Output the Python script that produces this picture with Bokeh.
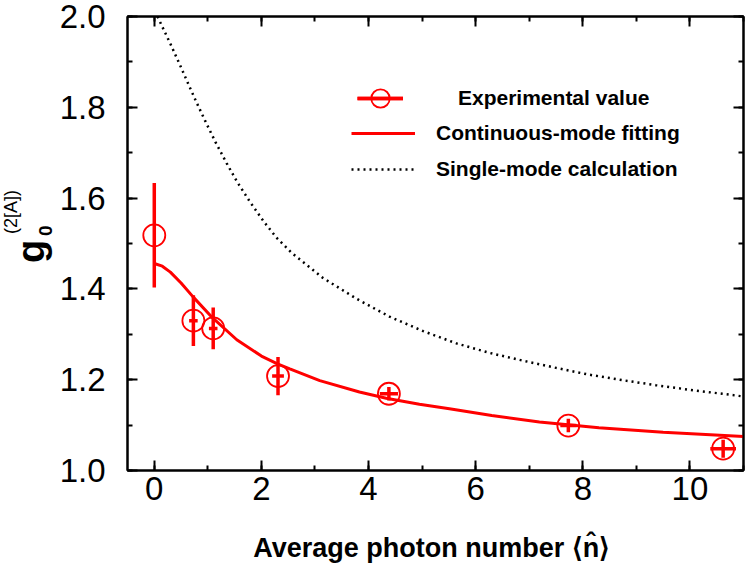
from bokeh.plotting import figure
from bokeh.layouts import row
from bokeh.models import (LinearAxis, Range1d, Legend, LegendItem, Div,
                          SingleIntervalTicker, PrintfTickFormatter,
                          CustomJSTickFormatter)
from bokeh.embed import file_html
from bokeh.resources import INLINE

# ---- data ----
n_exp = [0.0, 0.73, 1.10, 2.31, 4.38, 7.73, 10.62]
g_exp = [1.518, 1.330, 1.313, 1.208, 1.169, 1.099, 1.048]
g_err = [0.115, 0.056, 0.046, 0.042, 0.015, 0.015, 0.020]
n_err = [0.0, 0.08, 0.08, 0.11, 0.17, 0.15, 0.24]

n_fit = [0.0, 0.15, 0.30, 0.50, 0.72, 1.09, 1.54, 2.00, 2.30, 2.53, 3.09,
         3.83, 4.33, 4.95, 5.51, 6.30, 7.19, 8.30, 9.50, 11.0]
g_fit = [1.456, 1.450, 1.437, 1.413, 1.383, 1.336, 1.288, 1.252, 1.235, 1.224,
         1.198, 1.173, 1.159, 1.146, 1.136, 1.121, 1.107, 1.094, 1.084, 1.075]

n_single = [0.06, 0.30, 0.48, 0.64, 0.80, 0.95, 1.14, 1.35, 1.54, 1.79, 2.04,
            2.28, 2.56, 3.15, 3.78, 4.39, 5.02, 5.64, 6.26, 6.88, 7.50, 8.12,
            8.74, 9.36, 9.98, 10.60, 11.0]
g_single = [2.000, 1.940, 1.893, 1.850, 1.808, 1.770, 1.724, 1.677, 1.637,
            1.591, 1.549, 1.513, 1.480, 1.424, 1.378, 1.339, 1.307, 1.280,
            1.259, 1.242, 1.226, 1.211, 1.199, 1.188, 1.178, 1.169, 1.163]

legend_labels = ["Experimental value", "Continuous-mode fitting",
                 "Single-mode calculation"]
x_label = "Average photon number  \u27e8n\u0302\u27e9"
y_label_main, y_label_sub, y_label_sup = "g", "0", "(2[A])"

RED = "#ff0000"
SANS = "Liberation Sans"
DIV_W = 56

p = figure(width=747 - DIV_W, height=573, output_backend="svg",
           toolbar_location=None, margin=0,
           x_range=Range1d(-0.5, 11.0), y_range=Range1d(1.0, 2.0),
           min_border_left=127 - DIV_W, min_border_right=4, min_border_top=16,
           min_border_bottom=103)
p.xgrid.visible = False
p.ygrid.visible = False
p.outline_line_color = "black"
p.outline_line_width = 2
p.background_fill_color = "white"
p.border_fill_color = "white"

xt = SingleIntervalTicker(interval=2, num_minor_ticks=2)
yt = SingleIntervalTicker(interval=0.2, num_minor_ticks=2)
p.xaxis.ticker = xt
p.yaxis.ticker = yt
p.yaxis.formatter = PrintfTickFormatter(format="%.1f")


def style(ax, labels=True):
    ax.axis_line_color = "black"
    ax.axis_line_width = 2
    ax.major_tick_line_width = 2
    ax.minor_tick_line_width = 2
    ax.major_tick_in = 10
    ax.major_tick_out = 0
    ax.minor_tick_in = 5
    ax.minor_tick_out = 0
    if labels:
        ax.major_label_text_font = SANS
        ax.major_label_text_font_size = "33px"
        ax.major_label_text_color = "black"
    else:
        ax.formatter = CustomJSTickFormatter(code="return ''")
        ax.major_label_text_font_size = "0px"
        ax.major_label_standoff = 0


style(p.xaxis[0])
style(p.yaxis[0])
p.xaxis.major_label_standoff = 6
p.yaxis.major_label_standoff = 22
p.xaxis.axis_label = x_label
p.xaxis.axis_label_text_font = SANS
p.xaxis.axis_label_text_font_style = "bold"
p.xaxis.axis_label_text_font_size = "27px"
p.xaxis.axis_label_text_color = "black"
p.xaxis.axis_label_standoff = 30

top = LinearAxis(ticker=xt)
style(top, labels=False)
p.add_layout(top, "above")
right = LinearAxis(ticker=yt)
style(right, labels=False)
p.add_layout(right, "right")

# ---- data ----
fit_r = p.line(n_fit, g_fit, line_color=RED, line_width=3)
single_r = p.line(n_single, g_single, line_color="black", line_width=2.5,
                  line_dash="2 4")

lo = [g - e for g, e in zip(g_exp, g_err)]
hi = [g + e for g, e in zip(g_exp, g_err)]
xl = [n - e for n, e in zip(n_exp, n_err)]
xh = [n + e for n, e in zip(n_exp, n_err)]
yerr_r = p.segment(x0=n_exp, y0=lo, x1=n_exp, y1=hi, line_color=RED,
                   line_width=3.5)
xerr_r = p.segment(x0=xl, y0=g_exp, x1=xh, y1=g_exp, line_color=RED,
                   line_width=3.5)
circ_r = p.scatter(n_exp, g_exp, marker="circle", size=22, fill_color=None,
                   line_color=RED, line_width=1.8)

# ---- legends ----
common = dict(padding=0, spacing=6, border_line_color=None,
              background_fill_alpha=0, label_text_font=SANS,
              label_text_font_style="bold", label_text_font_size="21px",
              label_text_color="black")
legA = Legend(items=[LegendItem(label=legend_labels[0],
                                renderers=[yerr_r, xerr_r, circ_r])],
              location=(230, 347), glyph_width=46, glyph_height=50,
              label_standoff=55, **common)
legB = Legend(items=[LegendItem(label=legend_labels[1], renderers=[fit_r]),
                     LegendItem(label=legend_labels[2], renderers=[single_r])],
              location=(224, 286), glyph_width=64, glyph_height=30,
              label_standoff=21, **common)
p.add_layout(legA)
p.add_layout(legB)


# ---- y-axis title g_0^(2[A]) as rotated real text ----
def rot_text(txt, size, left, top, bold):
    w = "bold" if bold else "normal"
    return ('<div style="position:absolute;left:%dpx;top:%dpx;'
            'transform:rotate(-90deg);transform-origin:0 0;'
            'white-space:nowrap;line-height:1;font-family:\'%s\';'
            'font-size:%dpx;font-weight:%s;color:black;">%s</div>'
            % (left, top, SANS, size, w, txt))


html = ('<div style="position:relative;width:%dpx;height:573px;">' % DIV_W
        + rot_text(y_label_main, 38, 12, 263, True)
        + rot_text(y_label_sub, 19, 36, 236, True)
        + rot_text(y_label_sup, 18, 2, 234, False)
        + '</div>')
ylab = Div(text=html, width=DIV_W, height=573, margin=0)

layout = row(ylab, p, spacing=0, margin=0)
open("out.html", "w").write(file_html(layout, INLINE))
